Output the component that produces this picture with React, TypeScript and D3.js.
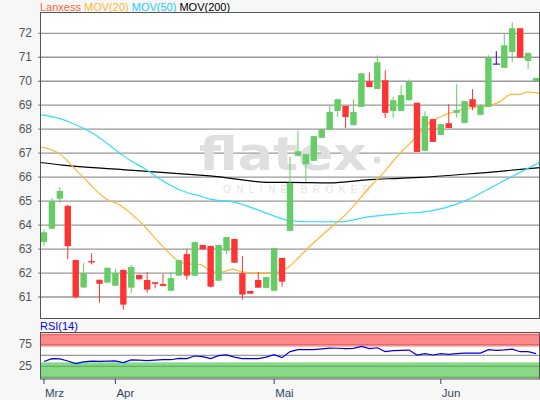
import React from 'react';
import * as d3 from 'd3';

// OHLC per trading day: [open, high, low, close]
const candles: [number, number, number, number][] = [
  [63.30, 63.82, 63.13, 63.70],
  [63.85, 65.13, 63.83, 65.00],
  [65.10, 65.60, 64.93, 65.42],
  [64.80, 64.85, 62.58, 63.12],
  [62.54, 62.55, 60.93, 61.00],
  [61.40, 62.42, 61.38, 62.00],
  [62.50, 62.82, 62.36, 62.44],
  [61.72, 61.72, 60.76, 61.55],
  [61.60, 62.23, 61.58, 62.22],
  [61.47, 62.18, 61.46, 62.00],
  [62.13, 62.15, 60.47, 60.68],
  [61.39, 62.33, 61.14, 62.25],
  [61.92, 61.93, 61.73, 61.74],
  [61.71, 62.03, 61.18, 61.31],
  [61.62, 61.63, 61.36, 61.55],
  [61.54, 61.96, 61.45, 61.46],
  [61.26, 62.04, 61.25, 61.79],
  [61.89, 62.55, 61.88, 62.54],
  [62.79, 62.99, 61.72, 61.89],
  [61.89, 63.30, 61.88, 63.29],
  [63.17, 63.18, 62.96, 63.00],
  [63.13, 63.14, 61.40, 61.43],
  [61.68, 63.18, 61.66, 63.17],
  [62.93, 63.50, 62.79, 63.50],
  [63.42, 63.43, 62.43, 62.43],
  [61.99, 62.71, 60.89, 61.10],
  [61.25, 61.26, 61.13, 61.14],
  [61.71, 62.04, 61.38, 61.39],
  [61.38, 61.84, 61.37, 61.83],
  [61.26, 63.05, 61.25, 63.04],
  [62.63, 62.64, 61.43, 61.64],
  [63.76, 66.85, 63.75, 65.76],
  [66.89, 67.92, 66.88, 67.08],
  [66.54, 66.97, 65.80, 66.96],
  [66.68, 67.72, 66.67, 67.71],
  [67.64, 68.00, 67.63, 67.99],
  [67.99, 69.00, 67.98, 68.72],
  [68.76, 69.26, 68.51, 69.25],
  [68.97, 68.98, 68.05, 68.51],
  [68.17, 69.25, 68.16, 68.72],
  [68.93, 70.35, 68.92, 70.33],
  [69.99, 70.37, 69.75, 69.76],
  [69.68, 71.08, 69.67, 70.79],
  [70.04, 70.46, 68.47, 68.68],
  [68.76, 69.35, 68.47, 69.21],
  [68.76, 69.83, 68.75, 69.42],
  [69.21, 70.07, 69.20, 69.99],
  [69.10, 69.11, 67.05, 67.05],
  [67.10, 68.75, 67.08, 68.54],
  [68.42, 68.43, 67.46, 67.47],
  [67.76, 68.22, 67.75, 68.21],
  [68.25, 69.04, 68.04, 68.05],
  [68.68, 69.87, 68.49, 68.79],
  [68.26, 69.18, 68.25, 69.17],
  [69.25, 69.67, 68.79, 68.93],
  [68.60, 69.04, 68.59, 68.97],
  [68.93, 71.08, 68.92, 70.99],
  [70.71, 71.25, 70.71, 70.71],
  [70.56, 71.99, 70.55, 71.50],
  [71.22, 72.46, 70.80, 72.21],
  [72.21, 72.22, 70.98, 70.99],
  [70.85, 71.19, 70.51, 71.18],
  [69.99, 70.14, 69.98, 70.13],
];

// moving averages: [day index, value]
const ma20: [number, number][] = [
  [-0.5, 67.26], [2.0, 66.96], [2.9, 66.7], [3.65, 66.43], [4.9, 66.01], [7.9, 65.08],
  [9.6, 64.83], [12.1, 64.14], [15.0, 63.1], [17.1, 62.47], [18.0, 62.38], [19.6, 62.36],
  [21.2, 62.05], [22.2, 62.03], [23.8, 62.15], [25.0, 62.04], [27.0, 62.01], [29.0, 62.01],
  [30.6, 62.2], [32.2, 62.68], [33.9, 63.24], [36.0, 63.86], [38.2, 64.5], [41.1, 65.6],
  [42.3, 66.01], [45.2, 67.12], [46.5, 67.54], [48.2, 68.17], [49.9, 68.51], [53.3, 68.86],
  [55.8, 68.96], [57.4, 69.14], [58.9, 69.45], [59.9, 69.45], [61.0, 69.56], [62.5, 69.49],
];
const ma50: [number, number][] = [
  [-0.5, 68.61], [2.0, 68.44], [3.65, 68.24], [6.2, 67.82], [9.6, 66.99], [10.8, 66.71],
  [13.0, 66.29], [14.2, 66.01], [18.0, 65.36], [19.6, 65.22], [20.9, 65.08], [23.8, 64.97],
  [28.1, 64.49], [30.6, 64.21], [33.5, 64.14], [36.9, 64.13], [41.1, 64.35], [45.2, 64.49],
  [47.4, 64.53], [50.5, 64.72], [53.3, 65.04], [56.2, 65.54], [59.1, 66.05], [62.5, 66.62],
];
const ma200: [number, number][] = [
  [-0.5, 66.61], [2.4, 66.5], [9.6, 66.32], [10.8, 66.29], [19.6, 66.08], [20.9, 66.05],
  [28.5, 65.78], [31.0, 65.78], [36.0, 65.76], [41.1, 65.9], [44.8, 65.95], [47.4, 65.99],
  [53.3, 66.13], [62.5, 66.4],
];

const rsi: number[] = [
  36, 42.4, 42, 37, 31, 35, 37, 36, 37, 37.5,
  33.5, 39.5, 39, 38, 39, 40.2, 40, 43, 42.5, 48.5,
  47, 42.5, 49.5, 51, 46, 42.4, 42.4, 42.4, 46, 51.5,
  44.7, 58.5, 62.9, 62.9, 63.3, 65, 66.7, 66.3, 65.5, 66,
  70.3, 65.5, 67.4, 58.5, 60.6, 61.5, 62, 50.8, 53.8, 50.8,
  53.8, 52.4, 53.8, 55, 55.3, 55.3, 62.9, 61.4, 62.5, 64.3,
  58.3, 58.3, 53.8,
];

const yTicks = [61, 62, 63, 64, 65, 66, 67, 68, 69, 70, 71, 72];
const rsiTicks = [25, 75];
const monthLabels = ['Mrz', 'Apr', 'Mai', 'Jun'];
const monthIdx = [0, 9, 29, 50];

const FONT = '"Liberation Sans", Arial, Helvetica, sans-serif';

export default function App() {
  const L = 40.5, R = 539.5, T = 12.5, B = 318.5;
  const RT = 332.5, RB = 379;
  const x = d3.scaleLinear().domain([-0.5, 62.5]).range([40, 540]);
  const y = d3.scaleLinear().domain([61, 72]).range([297, 33.3]);
  const ry = d3.scaleLinear().domain([0, 100]).range([377.2, 333.5]);

  const maLine = d3.line<[number, number]>()
    .x(d => x(d[0])).y(d => y(d[1])).curve(d3.curveMonotoneX);
  const rsiLine = d3.line<number>()
    .x((_, i) => x(i)).y(d => ry(d)).curve(d3.curveLinear);

  const green = '#66cc66', red = '#ff3333', doji = '#4422cc';

  return (
    <svg width={540} height={400} style={{ position: 'absolute', left: 0, top: 0, fontFamily: FONT }}>
      <defs>
        <clipPath id="plot"><rect x={L} y={T} width={R - L} height={B - T} /></clipPath>
        <clipPath id="rsiClip"><rect x={L} y={RT} width={R - L} height={RB - RT} /></clipPath>
      </defs>
      <rect x={0} y={0} width={540} height={400} fill="#f7f7f7" />

      {/* legend */}
      <text x={40} y={11} fontSize={11}>
        <tspan fill="#ff6633">Lanxess</tspan>
        <tspan fill="#ffb733"> MOV(20)</tspan>
        <tspan fill="#22ccff"> MOV(50)</tspan>
        <tspan fill="#000"> MOV(200)</tspan>
      </text>

      {/* main panel */}
      <rect x={L} y={T} width={R - L} height={B - T} fill="#fff" />
      {yTicks.map(t => (
        <g key={t}>
          <line x1={38} x2={R} y1={y(t)} y2={y(t)} stroke="#999" strokeWidth={1.3} />
          <text x={32} y={y(t) + 4} fontSize={12} fill="#555" textAnchor="end">{t}</text>
        </g>
      ))}

      {/* watermark */}
      <g fill="#dfdfdf">
        <text x={199} y={170} fontSize={47} fontWeight={700} fontFamily='"DejaVu Sans", sans-serif' textLength={168} lengthAdjust="spacingAndGlyphs">flatex</text>
        <circle cx={377} cy={160} r={3.4} />
        <text x={223} y={193} fontSize={10} fill="#e4e4e4" textLength={147} lengthAdjust="spacing">ONLINE BROKER</text>
      </g>

      <g clipPath="url(#plot)">
        <path d={maLine(ma200) || ''} fill="none" stroke="#000" strokeWidth={1.2} />
        <path d={maLine(ma50) || ''} fill="none" stroke="#33ddff" strokeWidth={1.2} />
        <path d={maLine(ma20) || ''} fill="none" stroke="#ffb833" strokeWidth={1.2} />
        {candles.map(([o, h, l, c], i) => {
          const cx = x(i);
          if (o === c) {
            return (
              <g key={i} stroke={doji} strokeWidth={1.2}>
                <line x1={cx} x2={cx} y1={y(h)} y2={y(l)} />
                <line x1={cx - 3.5} x2={cx + 3.5} y1={y(o)} y2={y(o)} />
              </g>
            );
          }
          const col = c > o ? green : red;
          const top = y(Math.max(o, c));
          const bot = y(Math.min(o, c));
          return (
            <g key={i}>
              <line x1={cx} x2={cx} y1={y(h)} y2={y(l)} stroke={col} strokeWidth={1} />
              <rect x={cx - 3.2} y={top} width={6.4} height={Math.max(1, bot - top)} fill={col} />
            </g>
          );
        })}
      </g>
      <rect x={L} y={T} width={R - L} height={B - T} fill="none" stroke="#555" strokeWidth={1} />

      {/* RSI panel */}
      <text x={40} y={330} fontSize={11} fill="#0000ff">RSI(14)</text>
      <rect x={L} y={RT} width={R - L} height={RB - RT} fill="#fff" />
      <g clipPath="url(#rsiClip)">
        <rect x={L} y={ry(100)} width={R - L} height={ry(70) - ry(100)} fill="#ff8888" />
        <rect x={L} y={ry(34)} width={R - L} height={ry(-3) - ry(34)} fill="#88d888" />
        <line x1={L} x2={R} y1={ry(97)} y2={ry(97)} stroke="#d46a6a" strokeWidth={1} />
        <line x1={L} x2={R} y1={ry(75)} y2={ry(75)} stroke="#d46a6a" strokeWidth={1} />
        <line x1={L} x2={R} y1={ry(50)} y2={ry(50)} stroke="#999" strokeWidth={1.2} />
        <line x1={L} x2={R} y1={ry(25)} y2={ry(25)} stroke="#5fa55f" strokeWidth={1} />
        <line x1={L} x2={R} y1={ry(0)} y2={ry(0)} stroke="#5fa55f" strokeWidth={1} />
        <path d={rsiLine(rsi) || ''} fill="none" stroke="#0000ee" strokeWidth={1.2} />
      </g>
      <rect x={L} y={RT} width={R - L} height={RB - RT} fill="none" stroke="#555" strokeWidth={1} />
      {rsiTicks.map(t => (
        <text key={t} x={32} y={ry(t) + 4} fontSize={12} fill="#555" textAnchor="end">{t}</text>
      ))}

      {/* x axis */}
      {monthIdx.map((m, k) => (
        <g key={m}>
          <line x1={x(m)} x2={x(m)} y1={RB} y2={RB + 5} stroke="#334466" strokeWidth={1} />
          <text x={x(m) + 1} y={397} fontSize={11.5} fill="#2e4a66">{monthLabels[k]}</text>
        </g>
      ))}
    </svg>
  );
}
